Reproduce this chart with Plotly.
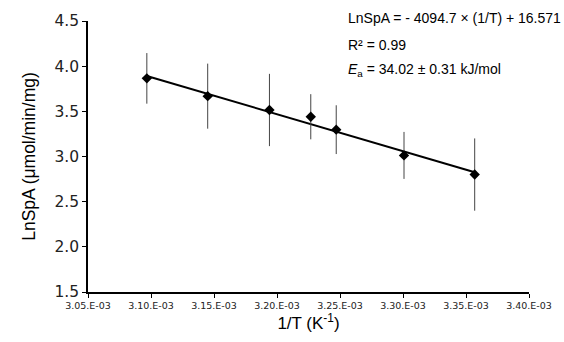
import plotly.graph_objects as go

inv_T = [3.0967e-3, 3.1450e-3, 3.1940e-3, 3.2268e-3, 3.2470e-3, 3.3008e-3, 3.3569e-3]
ln_spa = [3.865, 3.668, 3.515, 3.44, 3.297, 3.012, 2.80]
err = [0.28, 0.36, 0.40, 0.25, 0.27, 0.26, 0.40]

slope = -4094.7
intercept = 16.571
fit_x = [inv_T[0], inv_T[-1]]
fit_y = [slope * v + intercept for v in fit_x]

tick_vals = [3.05e-3, 3.10e-3, 3.15e-3, 3.20e-3, 3.25e-3, 3.30e-3, 3.35e-3, 3.40e-3]
tick_text = ["3.05.E-03", "3.10.E-03", "3.15.E-03", "3.20.E-03", "3.25.E-03", "3.30.E-03", "3.35.E-03", "3.40.E-03"]
y_ticks = [1.5, 2.0, 2.5, 3.0, 3.5, 4.0, 4.5]

fig = go.Figure()
fig.add_trace(go.Scatter(
    x=fit_x, y=fit_y, mode="lines",
    line=dict(color="black", width=2), showlegend=False, hoverinfo="skip"))
fig.add_trace(go.Scatter(
    x=inv_T, y=ln_spa, mode="markers",
    marker=dict(symbol="diamond", size=8, color="black"),
    error_y=dict(type="data", array=err, visible=True, color="#444", thickness=1, width=0),
    showlegend=False))

fig.update_layout(
    width=564, height=342,
    margin=dict(l=88, r=27, t=18, b=50),
    paper_bgcolor="white", plot_bgcolor="white",
    font=dict(family="Liberation Sans, Arial, sans-serif", color="black"),
    xaxis=dict(range=[3.05e-3, 3.40e-3], tickvals=tick_vals, ticktext=tick_text,
               tickfont=dict(size=9.5, family="DejaVu Sans", color="#222"),
               showline=True, linecolor="black", linewidth=1.5, ticks="outside", ticklen=4,
               tickcolor="black", showgrid=False, zeroline=False,
               title=dict(text="1/T (K<sup>-1</sup>)", font=dict(size=17), standoff=7)),
    yaxis=dict(range=[1.5, 4.5], tickvals=y_ticks, ticktext=[f"{v:.1f}" for v in y_ticks],
               tickfont=dict(size=15.5, family="DejaVu Sans", color="#222"),
               showline=True, linecolor="black", linewidth=1.5, ticks="outside", ticklen=4,
               tickcolor="black", showgrid=False, zeroline=False,
               title=dict(text="LnSpA (μmol/min/mg)", font=dict(size=17.5), standoff=14)),
)

ann = [
    ("LnSpA = - 4094.7 × (1/T) + 16.571", 15),
    ("R² = 0.99", 42),
    ("<i>E</i><sub>a</sub> = 34.02 ± 0.31 kJ/mol", 68),
]
for text, ypx in ann:
    fig.add_annotation(text=text, xref="paper", yref="paper",
                       x=(351 - 88) / (564 - 88 - 27), y=1 - (ypx - 18) / (342 - 18 - 50),
                       xanchor="left", yanchor="middle", showarrow=False,
                       font=dict(size=14, family="Liberation Sans, Arial"))

fig.write_html("out.html")
